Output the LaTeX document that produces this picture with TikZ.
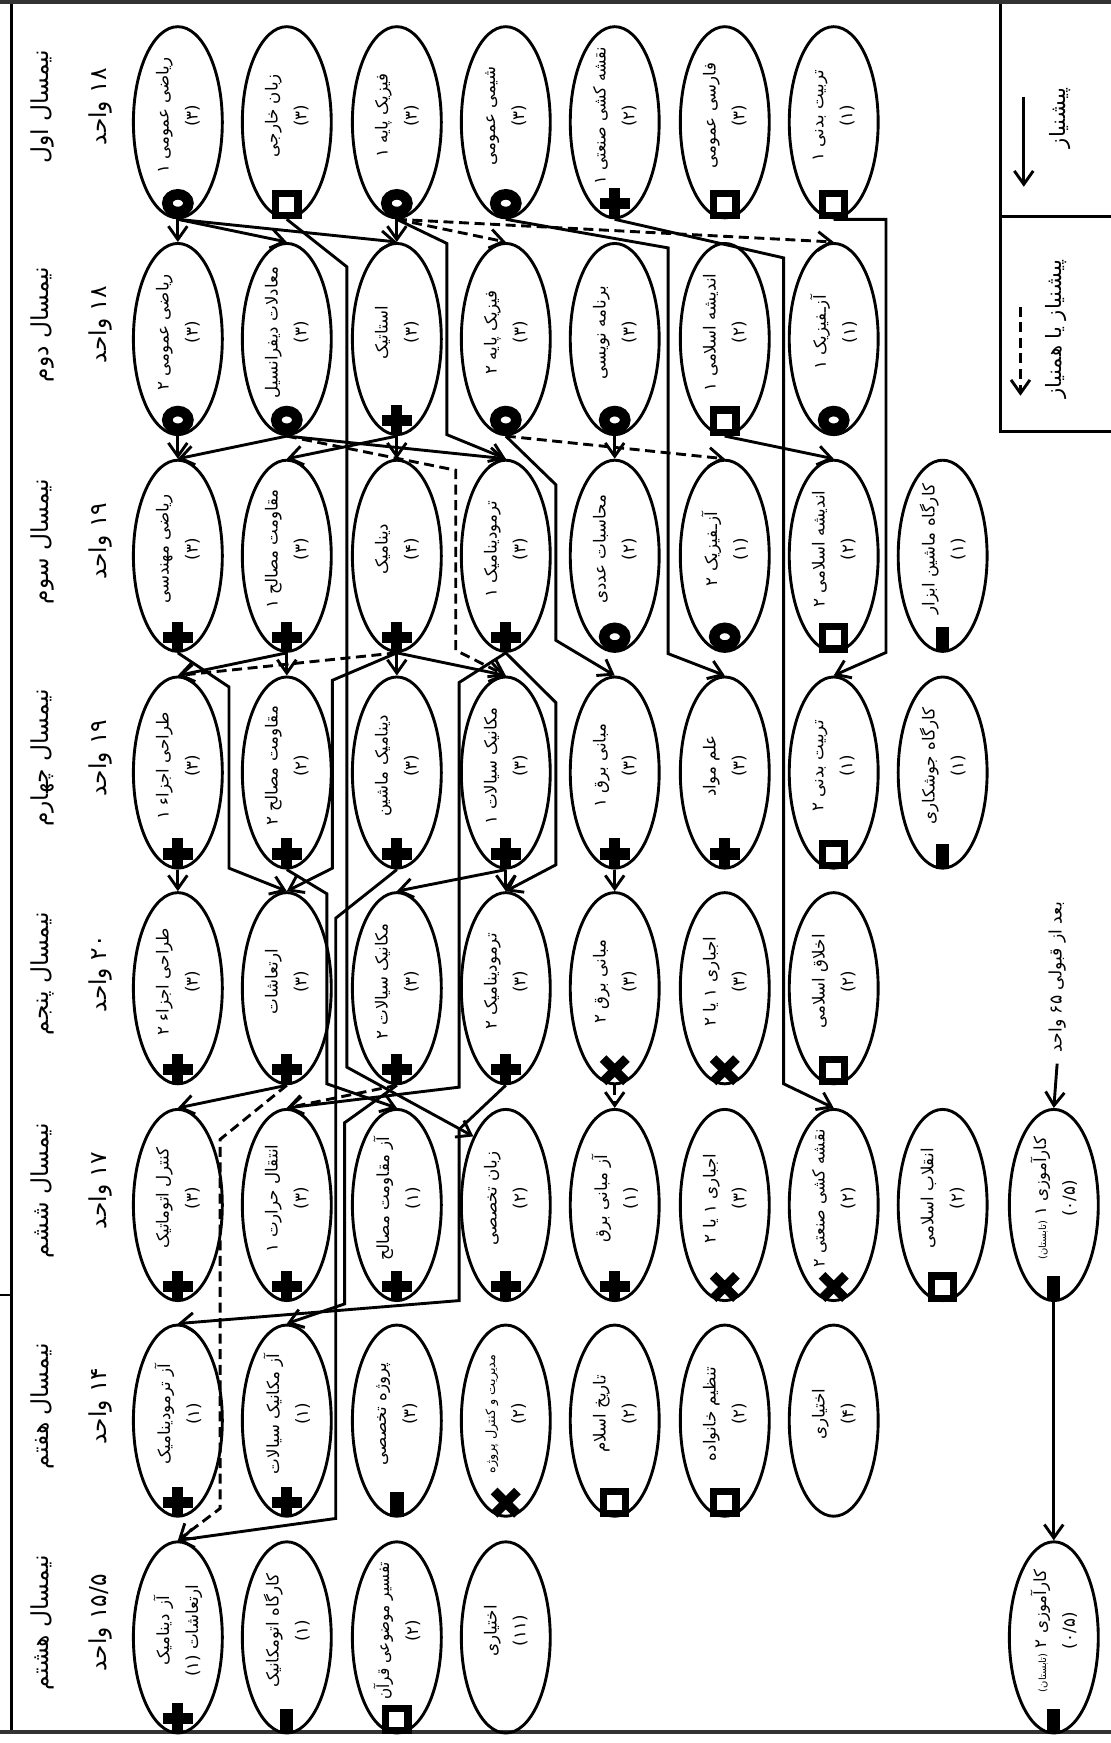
\documentclass[tikz,border=0pt]{standalone}
\usepackage{fontspec}
\usepackage{graphicx}
\newfontfamily\fa[Script=Arabic]{DejaVu Sans}
\TeXXeTstate=1
\usetikzlibrary{arrows.meta, shapes.geometric}

\tikzset{
  mring/.pic={\draw[line width=9.5pt] (0,-14.5) ellipse [x radius=9.5pt, y radius=8pt];},
  msq/.pic={\draw[line width=6.5pt, fill=white] (-10,-23.5) rectangle (10,-3.5);},
  mplus/.pic={\fill (-5,-28) rectangle (5,-1); \fill (-13.5,-19) rectangle (13.5,-9);},
  mcross/.pic={\draw[line width=8.5pt] (-10.5,-24) -- (10.5,-3) (-10.5,-3) -- (10.5,-24);},
  mbar/.pic={\fill (-6,-23) rectangle (6,-1);},
  mnone/.pic={},
}

\newsavebox{\crsbox}
\newcommand{\fitname}[1]{\sbox{\crsbox}{#1}%
  \ifdim\wd\crsbox>124pt \resizebox{124pt}{\height}{\usebox{\crsbox}}\else\usebox{\crsbox}\fi}

\newcommand{\course}[5]{%
  \node[crs] (#1) at (#2) {};
  \node[crstxt] (#1t) at ([yshift=6pt]#1.center) {\fitname{#3}\\#4};
  \pic at (#1.south) {#5};%
}

\begin{document}
\begin{tikzpicture}[
  x=1pt, y=-1pt,
  crs/.style={draw, ellipse, line width=2.6pt, minimum width=80pt, minimum height=172pt, inner sep=0pt},
  crstxt/.style={rotate=90, align=center, inner sep=0pt, font=\fa\fontsize{15}{26}\selectfont},
  sem/.style={rotate=90, align=center, inner sep=0pt, font=\fa\fontsize{21}{52}\selectfont},
  note/.style={rotate=90, inner sep=0pt, font=\fa\fontsize{15.5}{18}\selectfont},
  legend/.style={rotate=90, inner sep=0pt, font=\fa\fontsize{19}{22}\selectfont},
  prereq/.style={draw, line width=2.6pt, -{Straight Barb[length=12pt, width=17pt]}},
  coreq/.style={prereq, dash pattern=on 9pt off 5pt},
]
\useasboundingbox (0,0) rectangle (999,1568);

\draw[line width=3.5pt, black!80] (0,2) -- (999,2);
\draw[line width=2.5pt] (10,4) -- (10,1558);
\draw[line width=2pt] (0,1165) -- (10,1165);
\draw[line width=3pt, black!80] (0,1558) -- (999,1558);
\draw[line width=2.5pt] (900,4) -- (900,388) -- (999,388);
\draw[line width=2.5pt] (900,195) -- (999,195);

\node[legend] (lg1) at (954,106) {\beginR پیشنیاز\endR};
\node[legend] (lg2) at (950,296) {\beginR پیشنیاز یا همنیاز\endR};
\coordinate (la1) at (921,87);
\coordinate (lb1) at (921,168);
\coordinate (la2) at (918,276);
\coordinate (lb2) at (918,356);
\draw[prereq] (la1) -- (lb1);
\draw[coreq] (la2) -- (lb2);

\node[sem] (s1) at (64,96) {\beginR نیمسال اول\endR\\\beginR ۱۸ واحد\endR};
\node[sem] (s2) at (64,292) {\beginR نیمسال دوم\endR\\\beginR ۱۸ واحد\endR};
\node[sem] (s3) at (64,487) {\beginR نیمسال سوم\endR\\\beginR ۱۹ واحد\endR};
\node[sem] (s4) at (64,682) {\beginR نیمسال چهارم\endR\\\beginR ۱۹ واحد\endR};
\node[sem] (s5) at (64,876) {\beginR نیمسال پنجم\endR\\\beginR ۲۰ واحد\endR};
\node[sem] (s6) at (64,1071) {\beginR نیمسال ششم\endR\\\beginR ۱۷ واحد\endR};
\node[sem] (s7) at (64,1265) {\beginR نیمسال هفتم\endR\\\beginR ۱۴ واحد\endR};
\node[sem] (s8) at (64,1460) {\beginR نیمسال هشتم\endR\\\beginR ۱۵/۵ واحد\endR};

\course{r1c1}{160,110}{\beginR ریاضی عمومی ۱\endR}{(۳)}{mring}
\course{r1c2}{258,110}{\beginR زبان خارجی\endR}{(۳)}{msq}
\course{r1c3}{357,110}{\beginR فیزیک پایه ۱\endR}{(۳)}{mring}
\course{r1c4}{455,110}{\beginR شیمی عمومی\endR}{(۳)}{mring}
\course{r1c5}{553,110}{\beginR نقشه کشی صنعتی ۱\endR}{(۲)}{mplus}
\course{r1c6}{652,110}{\beginR فارسی عمومی\endR}{(۳)}{msq}
\course{r1c7}{750,110}{\beginR تربیت بدنی ۱\endR}{(۱)}{msq}

\course{r2c1}{160,305}{\beginR ریاضی عمومی ۲\endR}{(۳)}{mring}
\course{r2c2}{258,305}{\beginR معادلات دیفرانسیل\endR}{(۳)}{mring}
\course{r2c3}{357,305}{\beginR استاتیک\endR}{(۳)}{mplus}
\course{r2c4}{455,305}{\beginR فیزیک پایه ۲\endR}{(۳)}{mring}
\course{r2c5}{553,305}{\beginR برنامه نویسی\endR}{(۳)}{mring}
\course{r2c6}{652,305}{\beginR اندیشه اسلامی ۱\endR}{(۲)}{msq}
\course{r2c7}{750,305}{\beginR آزـفیزیک ۱\endR}{(۱)}{mring}

\course{r3c1}{160,500}{\beginR ریاضی مهندسی\endR}{(۳)}{mplus}
\course{r3c2}{258,500}{\beginR مقاومت مصالح ۱\endR}{(۳)}{mplus}
\course{r3c3}{357,500}{\beginR دینامیک\endR}{(۴)}{mplus}
\course{r3c4}{455,500}{\beginR ترمودینامیک ۱\endR}{(۳)}{mplus}
\course{r3c5}{553,500}{\beginR محاسبات عددی\endR}{(۲)}{mring}
\course{r3c6}{652,500}{\beginR آزـفیزیک ۲\endR}{(۱)}{mring}
\course{r3c7}{750,500}{\beginR اندیشه اسلامی ۲\endR}{(۲)}{msq}
\course{r3c8}{848,500}{\beginR کارگاه ماشین ابزار\endR}{(۱)}{mbar}

\course{r4c1}{160,695}{\beginR طراحی اجزاء ۱\endR}{(۳)}{mplus}
\course{r4c2}{258,695}{\beginR مقاومت مصالح ۲\endR}{(۲)}{mplus}
\course{r4c3}{357,695}{\beginR دینامیک ماشین\endR}{(۳)}{mplus}
\course{r4c4}{455,695}{\beginR مکانیک سیالات ۱\endR}{(۳)}{mplus}
\course{r4c5}{553,695}{\beginR مبانی برق ۱\endR}{(۳)}{mplus}
\course{r4c6}{652,695}{\beginR علم مواد\endR}{(۳)}{mplus}
\course{r4c7}{750,695}{\beginR تربیت بدنی ۲\endR}{(۱)}{msq}
\course{r4c8}{848,695}{\beginR کارگاه جوشکاری\endR}{(۱)}{mbar}

\course{r5c1}{160,889}{\beginR طراحی اجزاء ۲\endR}{(۳)}{mplus}
\course{r5c2}{258,889}{\beginR ارتعاشات\endR}{(۳)}{mplus}
\course{r5c3}{357,889}{\beginR مکانیک سیالات ۲\endR}{(۳)}{mplus}
\course{r5c4}{455,889}{\beginR ترمودینامیک ۲\endR}{(۳)}{mplus}
\course{r5c5}{553,889}{\beginR مبانی برق ۲\endR}{(۳)}{mcross}
\course{r5c6}{652,889}{\beginR اجباری ۱ یا ۲\endR}{(۳)}{mcross}
\course{r5c7}{750,889}{\beginR اخلاق اسلامی\endR}{(۲)}{msq}

\course{r6c1}{160,1084}{\beginR کنترل اتوماتیک\endR}{(۳)}{mplus}
\course{r6c2}{258,1084}{\beginR انتقال حرارت ۱\endR}{(۳)}{mplus}
\course{r6c3}{357,1084}{\beginR آز مقاومت مصالح\endR}{(۱)}{mplus}
\course{r6c4}{455,1084}{\beginR زبان تخصصی\endR}{(۲)}{mplus}
\course{r6c5}{553,1084}{\beginR آز مبانی برق\endR}{(۱)}{mplus}
\course{r6c6}{652,1084}{\beginR اجباری ۱ یا ۲\endR}{(۳)}{mcross}
\course{r6c7}{750,1084}{\beginR نقشه کشی صنعتی ۲\endR}{(۲)}{mcross}
\course{r6c8}{848,1084}{\beginR انقلاب اسلامی\endR}{(۲)}{msq}
\course{r6c9}{948,1084}{\beginR کارآموزی ۱ {\fontsize{9}{10}\selectfont (تابستان)}\endR}{(۰/۵)}{mbar}

\course{r7c1}{160,1278}{\beginR آز ترمودینامیک\endR}{(۱)}{mplus}
\course{r7c2}{258,1278}{\beginR آز مکانیک سیالات\endR}{(۱)}{mplus}
\course{r7c3}{357,1278}{\beginR پروژه تخصصی\endR}{(۳)}{mbar}
\course{r7c4}{455,1278}{{\fontsize{11.5}{12}\selectfont\beginR مدیریت و کنترل پروژه\endR}}{(۲)}{mcross}
\course{r7c5}{553,1278}{\beginR تاریخ اسلام\endR}{(۲)}{msq}
\course{r7c6}{652,1278}{\beginR تنظیم خانواده\endR}{(۲)}{msq}
\course{r7c7}{750,1278}{\beginR اختیاری\endR}{(۴)}{mnone}

\course{r8c1}{160,1473}{\beginR آز دینامیک\endR}{\beginR ارتعاشات (۱)\endR}{mplus}
\course{r8c2}{258,1473}{\beginR کارگاه اتومکانیک\endR}{(۱)}{mbar}
\course{r8c3}{357,1473}{\beginR تفسیر موضوعی قرآن\endR}{(۲)}{msq}
\course{r8c4}{455,1473}{\beginR اختیاری\endR}{(۱۱)}{mnone}
\course{r8c9}{948,1473}{\beginR کارآموزی ۲ {\fontsize{9}{10}\selectfont (تابستان)}\endR}{(۰/۵)}{mbar}

\node[note] (cond) at (951,879) {\beginR بعد از قبولی ۶۵ واحد\endR};

\draw[prereq] (r1c1.south) -- (r2c1.north);
\draw[prereq] (r1c1.south) -- (r2c2.north);
\draw[prereq] (r1c1.south) -- (r2c3.north);
\draw[prereq] (r1c2.south) -- (312,240) -- (312,960) -- (r6c4.north west);
\draw[prereq] (r1c3.south) -- (r2c3.north);
\draw[coreq] (r1c3.south) -- (r2c4.north);
\draw[coreq] (r1c3.south) -- (r2c7.north);
\draw[prereq] (r1c3.south) -- (402,219) -- (402,391) -- (r3c4.north);
\draw[prereq] (r1c4.south) -- (601,223) -- (601,588) -- (r4c6.north);
\draw[prereq] (r1c5.south) -- (705,232) -- (705,975) -- (r6c7.north);
\draw[prereq] (r1c7.south) -| (797,587) -- (r4c7.north);

\draw[prereq] (r2c1.south) -- (r3c1.north);
\draw[prereq] (r2c2.south) -- (r3c1.north);
\draw[prereq] (r2c2.south) -- (r3c4.north);
\draw[coreq] (r2c2.south) -- (410,423) -- (410,585) -- (r4c4.north);
\draw[prereq] (r2c3.south) -- (r3c2.north);
\draw[prereq] (r2c3.south) -- (r3c3.north);
\draw[coreq] (r2c4.south) -- (r3c6.north);
\draw[prereq] (r2c4.south) -- (500,436) -- (500,576) -- (r4c5.north);
\draw[prereq] (r2c5.south) -- (r3c5.north);
\draw[prereq] (r2c6.south) -- (r3c7.north);

\draw[prereq] (r3c1.south) -- (206,618) -- (206,781) -- (r5c2.north);
\draw[prereq] (r3c2.south) -- (r4c1.north);
\draw[prereq] (r3c2.south) -- (r4c2.north);
\draw[coreq] (r3c3.south) -- (r4c1.north);
\draw[prereq] (r3c3.south) -- (r4c3.north);
\draw[prereq] (r3c3.south) -- (r4c4.north);
\draw[prereq] (r3c3.south) -- (299,612) -- (299,781) -- (r5c2.north);
\draw[prereq] (r3c4.south) -- (500,632) -- (500,778) -- (r5c4.north);
\draw[prereq] (r3c4.south) -- (413,614) -- (413,978) -- (r6c2.north);

\draw[prereq] (r4c1.south) -- (r5c1.north);
\draw[prereq] (r4c2.south) -- (294,804) -- (294,975) -- (r6c3.north);
\draw[prereq] (r4c3.south) -- (302,826) -- (302,1366) -- (r8c1.north);
\draw[prereq] (r4c4.south) -- (r5c3.north);
\draw[prereq] (r4c4.south) -- (r5c4.north);
\draw[prereq] (r4c5.south) -- (r5c5.north);

\draw[prereq] (r5c2.south) -- (r6c1.north);
\draw[coreq] (r5c2.south) -- (198,1025) -- (198,1357) -- (r8c1.north);
\draw[coreq] (r5c3.south) -- (r6c2.north);
\draw[prereq] (r5c3.south) -- (310,1010) -- (310,1173) -- (r7c2.north);
\draw[prereq] (r5c4.south) -- (413,1016) -- (413,1170) -- (r7c1.north);
\draw[coreq] (r5c5.south) -- (r6c5.north);

\draw[prereq] ([yshift=-10pt]cond.west) -- (r6c9.north);
\draw[prereq] (r6c9.south) -- (r8c9.north);

\end{tikzpicture}
\end{document}
